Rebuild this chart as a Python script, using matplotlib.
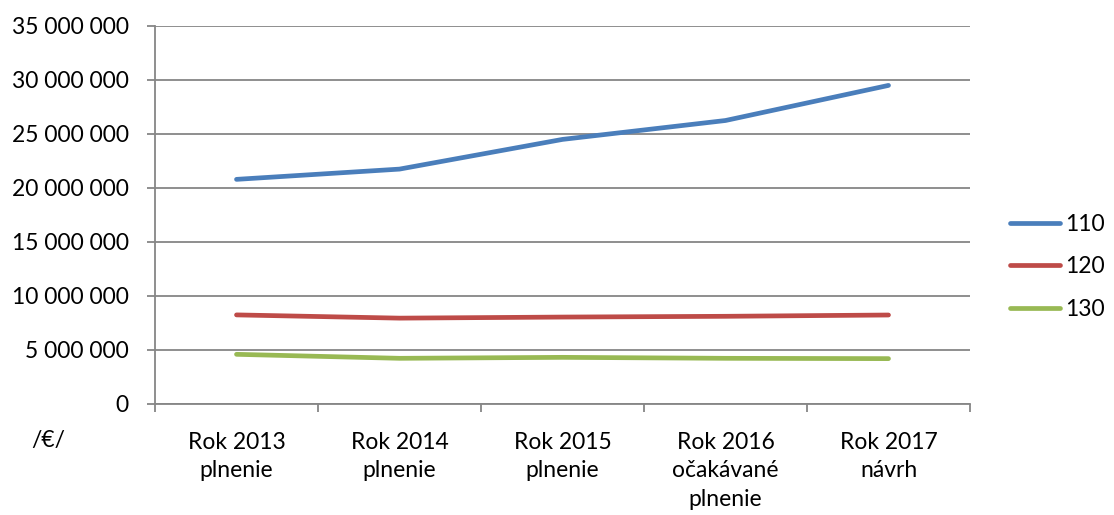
import matplotlib
matplotlib.use("Agg")
import matplotlib.pyplot as plt
from matplotlib.ticker import FuncFormatter, FixedLocator

categories = ["Rok 2013\nplnenie", "Rok 2014\nplnenie", "Rok 2015\nplnenie",
              "Rok 2016\nočakávané\nplnenie", "Rok 2017\nnávrh"]
series_names = ["110", "120", "130"]
s110 = [20_800_000, 21_750_000, 24_500_000, 26_250_000, 29_500_000]
s120 = [8_250_000, 7_950_000, 8_050_000, 8_120_000, 8_240_000]
s130 = [4_600_000, 4_230_000, 4_320_000, 4_230_000, 4_200_000]
colors = ["#4A7EBB", "#BE4B48", "#98B954"]

FS = 16.5
plt.rcParams['font.family'] = ['Lato', 'DejaVu Sans']
fig = plt.figure(figsize=(11.14, 5.15), dpi=100)
ax = fig.add_axes([155/1114, 1-404/515, (970-155)/1114, (404-26)/515])

x = list(range(len(categories)))
for name, vals, c in zip(series_names, [s110, s120, s130], colors):
    ax.plot(x, vals, color=c, lw=3.4, solid_capstyle='round', label=name)

ax.set_xlim(-0.5, len(categories) - 0.5)
ax.set_ylim(0, 35_000_000)
ax.set_yticks(range(0, 35_000_001, 5_000_000))
ax.yaxis.set_major_formatter(FuncFormatter(lambda v, p: f"{int(v):,}".replace(",", " ")))
ax.grid(axis='y', color='#868686', lw=1.3)
ax.set_axisbelow(True)

ax.set_xticks(x)
ax.set_xticklabels(categories, fontsize=FS, linespacing=1.45)
ax.xaxis.set_minor_locator(FixedLocator([i - 0.5 for i in range(len(categories) + 1)]))
ax.tick_params(axis='x', which='major', length=0, pad=20)
ax.tick_params(axis='x', which='minor', length=6, color='#868686', width=1.3)
ax.tick_params(axis='y', labelsize=FS, length=6, color='#868686', width=1.3, pad=13)

for s in ['top', 'right']:
    ax.spines[s].set_visible(False)
for s in ['left', 'bottom']:
    ax.spines[s].set_color('#868686')
    ax.spines[s].set_linewidth(1.3)

leg = fig.legend(loc='center left', bbox_to_anchor=(1010/1114, 1-267/515), frameon=False,
                 fontsize=FS, handlelength=2.2, handletextpad=0.22, labelspacing=0.95,
                 borderpad=0, borderaxespad=0)
for h in leg.get_lines():
    h.set_linewidth(3.4)

fig.text(48/1114, 1-440/515, "/€/", fontsize=FS, ha='center', va='center')

fig.savefig("out.png", dpi=100)
